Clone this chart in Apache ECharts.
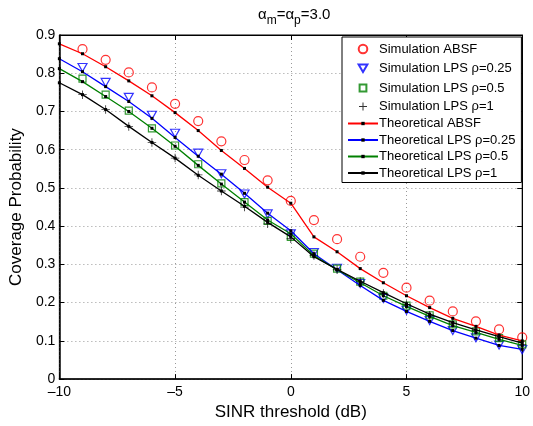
<!DOCTYPE html>
<html>
<head>
<meta charset="utf-8">
<script src="https://cdn.jsdelivr.net/npm/echarts@6/dist/echarts.min.js"></script>
<style>
html,body{margin:0;padding:0;background:#fff;}
#chart{width:533px;height:426px;}
</style>
</head>
<body>
<div id="chart"></div>
<script>
// ---- data ----
const xSim = [-9,-8,-7,-6,-5,-4,-3,-2,-1,0,1,2,3,4,5,6,7,8,9,10];
const xTheo = [-10,-9,-8,-7,-6,-5,-4,-3,-2,-1,0,1,2,3,4,5,6,7,8,9,10];

const simABSF   = [0.863,0.835,0.802,0.763,0.720,0.675,0.622,0.573,0.520,0.466,0.416,0.366,0.320,0.278,0.239,0.205,0.177,0.151,0.130,0.109];
const simLPS025 = [0.815,0.776,0.737,0.690,0.643,0.591,0.537,0.484,0.432,0.380,0.331,0.290,0.250,0.211,0.180,0.153,0.127,0.108,0.089,0.077];
const simLPS05  = [0.786,0.744,0.702,0.656,0.611,0.562,0.512,0.463,0.414,0.372,0.328,0.289,0.255,0.218,0.192,0.167,0.143,0.125,0.107,0.091];
const simLPS1   = [0.744,0.705,0.661,0.619,0.578,0.534,0.492,0.450,0.406,0.367,0.323,0.286,0.255,0.224,0.195,0.167,0.146,0.127,0.109,0.091];

const theoABSF   = [0.877,0.851,0.817,0.780,0.741,0.697,0.650,0.598,0.551,0.502,0.460,0.372,0.333,0.289,0.252,0.218,0.187,0.159,0.138,0.115,0.100];
const theoLPS025 = [0.838,0.804,0.765,0.726,0.682,0.632,0.583,0.536,0.486,0.434,0.388,0.328,0.286,0.245,0.206,0.177,0.151,0.127,0.107,0.088,0.078];
const theoLPS05  = [0.812,0.778,0.739,0.700,0.656,0.609,0.559,0.510,0.463,0.416,0.380,0.323,0.286,0.252,0.218,0.190,0.164,0.140,0.122,0.104,0.088];
const theoLPS1   = [0.775,0.744,0.705,0.661,0.619,0.578,0.533,0.492,0.452,0.410,0.372,0.320,0.287,0.256,0.226,0.197,0.170,0.148,0.129,0.111,0.094];

const names = ['Simulation ABSF','Simulation LPS \u03c1=0.25','Simulation LPS \u03c1=0.5','Simulation LPS \u03c1=1',
               'Theoretical ABSF','Theoretical LPS \u03c1=0.25','Theoretical LPS \u03c1=0.5','Theoretical LPS \u03c1=1'];
const colors = ['#ff0000','#0000ff','#008000','#000000'];

const pair = (xs, ys) => xs.map((x, i) => [x, ys[i]]);
const FONT = 'Liberation Sans, Arial, Helvetica, sans-serif';

// marker shapes
const triDown = 'path://M0,0 L10,0 L5,8.7 Z';
const plus = 'path://M4.5,0 H5.5 V4.5 H10 V5.5 H5.5 V10 H4.5 V5.5 H0 V4.5 H4.5 Z';
const dot = 'path://M0,0 M10,10 M3.5,3.5 H6.5 V6.5 H3.5 Z';
// legend icons (padded to a 14x14 box so they keep the plot marker size)
const legCircle = 'path://M0,0 M14,14 M11.3,7 A4.3,4.3 0 1,1 2.7,7 A4.3,4.3 0 1,1 11.3,7 Z';
const legTri = 'path://M0,0 M14,14 M2.6,3 H11.4 L7,10.6 Z';
const legSq = 'path://M0,0 M14,14 M3.6,3.6 H10.4 V10.4 H3.6 Z';
const legPlus = 'path://M0,0 M14,14 M6.5,3 H7.5 V6.5 H11 V7.5 H7.5 V11 H6.5 V7.5 H3 V6.5 H6.5 Z';

const chart = echarts.init(document.getElementById('chart'), null, {renderer: 'canvas'});

function simSeries(i, ys, symbol, size, hollow) {
  return {
    name: names[i], type: 'scatter', data: pair(xSim, ys),
    symbol: symbol, symbolSize: size, z: 3,
    itemStyle: hollow ? {color: 'rgba(0,0,0,0)', borderColor: colors[i], borderWidth: 1.2}
                      : {color: colors[i], borderWidth: 0}
  };
}
function theoSeries(i, ys) {
  return {
    name: names[i + 4], type: 'line', data: pair(xTheo, ys),
    symbol: dot, symbolSize: 10, showSymbol: true, z: 4,
    lineStyle: {color: colors[i], width: 1.3},
    itemStyle: {color: '#000', borderWidth: 0},
    emphasis: {disabled: true}
  };
}

const axisCommon = {
  axisLine: {show: true, onZero: false, lineStyle: {color: '#000', width: 1.5}},
  axisTick: {show: true, inside: true, length: 5, lineStyle: {color: '#000'}},
};

chart.setOption({
  animation: false,
  backgroundColor: '#fff',
  textStyle: {fontFamily: FONT},
  title: {
    text: '{a|\u03b1}{s|m}{a|=\u03b1}{s|p}{a|=3.0}',
    left: 253, top: 2,
    textStyle: {
      fontWeight: 'normal',
      rich: {
        a: {fontSize: 15, fontFamily: FONT, fontWeight: 'normal', color: '#000', lineHeight: 18, verticalAlign: 'top'},
        s: {fontSize: 12, fontFamily: FONT, fontWeight: 'normal', color: '#000', lineHeight: 18, verticalAlign: 'top', padding: [8, 0, 0, 0]}
      }
    }
  },
  grid: {left: 56, right: 7, top: 35, bottom: 45, show: true, borderColor: '#000', borderWidth: 1, backgroundColor: '#fff'},
  legend: {
    orient: 'vertical', left: 342, top: 37,
    backgroundColor: '#fff', borderColor: '#000', borderWidth: 1, borderRadius: 0,
    padding: [4, 6, 3, 5], itemGap: 3.5, itemWidth: 30, itemHeight: 14,
    textStyle: {fontSize: 13, fontFamily: FONT, color: '#000', padding: [0, 0, 0, -4]},
    selectedMode: false,
    data: [
      {name: names[0], icon: legCircle},
      {name: names[1], icon: legTri},
      {name: names[2], icon: legSq},
      {name: names[3], icon: legPlus},
      names[4], names[5], names[6], names[7]
    ]
  },
  xAxis: [{
    type: 'value', min: -10, max: 10, interval: 5, position: 'bottom',
    ...axisCommon,
    axisLabel: {color: '#000', fontSize: 14, fontFamily: FONT, margin: 6,
      formatter: v => String(v).replace('-', '\u2013')},
    splitLine: {show: true, lineStyle: {color: '#999', type: [1, 3], width: 1}},
    name: 'SINR threshold (dB)', nameLocation: 'middle', nameGap: 21,
    nameTextStyle: {fontSize: 17, fontFamily: FONT, color: '#000'}
  }, {
    type: 'value', min: -10, max: 10, interval: 5, position: 'top',
    ...axisCommon, axisLine: {show: true, onZero: false, lineStyle: {color: '#000', width: 1}},
    axisLabel: {show: false}, splitLine: {show: false}
  }],
  yAxis: [{
    type: 'value', min: 0, max: 0.9, interval: 0.1, position: 'left',
    ...axisCommon,
    axisLabel: {color: '#000', fontSize: 14, fontFamily: FONT, margin: 4,
      formatter: v => String(Math.round(v * 10) / 10)},
    splitLine: {show: true, lineStyle: {color: '#999', type: [1, 3], width: 1}},
    name: 'Coverage Probability', nameLocation: 'middle', nameGap: 32,
    nameTextStyle: {fontSize: 17, fontFamily: FONT, color: '#000'}
  }, {
    type: 'value', min: 0, max: 0.9, interval: 0.1, position: 'right',
    ...axisCommon, axisLine: {show: true, onZero: false, lineStyle: {color: '#000', width: 1}},
    axisLabel: {show: false}, splitLine: {show: false}
  }],
  series: [
    simSeries(0, simABSF, 'circle', 9, true),
    simSeries(1, simLPS025, triDown, [9, 8], true),
    simSeries(2, simLPS05, 'rect', 7, true),
    simSeries(3, simLPS1, plus, 8.5, false),
    theoSeries(0, theoABSF),
    theoSeries(1, theoLPS025),
    theoSeries(2, theoLPS05),
    theoSeries(3, theoLPS1)
  ]
});
</script>
</body>
</html>
